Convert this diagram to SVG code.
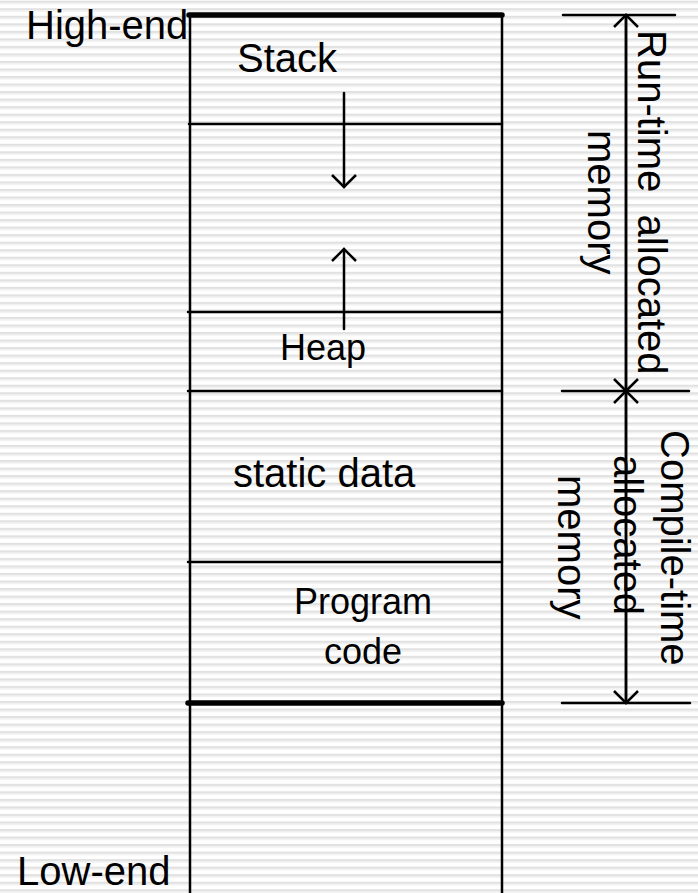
<svg xmlns="http://www.w3.org/2000/svg" width="698" height="893" viewBox="0 0 698 893">
<defs>
<pattern id="stripes" patternUnits="userSpaceOnUse" x="0" y="0.7" width="20" height="7.53">
<rect x="0" y="0" width="20" height="2" fill="#e1e1e1"/>
<rect x="0" y="2" width="20" height="1.5" fill="#eeeeee"/>
</pattern>
<marker id="chev" viewBox="-14 -14 28 28" markerWidth="28" markerHeight="28" refX="0" refY="0" orient="auto" markerUnits="userSpaceOnUse">
<path d="M-12,-12 L0,0 L-12,12" fill="none" stroke="#000" stroke-width="2.5"/>
</marker>
</defs>
<style>
.ln{stroke:#000;stroke-width:2.5;fill:none;stroke-linecap:round}
.thick{stroke:#000;stroke-width:5.5;fill:none;stroke-linecap:round}
.t{font-family:"Liberation Sans",Arial,sans-serif;font-size:40px;fill:#000}
.s{font-size:36px}
</style>
<rect width="698" height="893" fill="#ffffff"/>
<rect width="698" height="893" fill="url(#stripes)"/>
<g id="memory-column">
<line class="ln" x1="190" y1="15" x2="190" y2="893"/>
<line class="ln" x1="502" y1="15" x2="502" y2="893"/>
<line class="thick" x1="189" y1="15" x2="502" y2="15"/>
<line class="thick" x1="188" y1="703" x2="502" y2="703"/>
</g>
<g id="stack">
<line class="ln" x1="189" y1="124" x2="502" y2="124"/>
<text class="t" x="237" y="72">Stack</text>
</g>
<g id="heap">
<line class="ln" x1="188" y1="312" x2="502" y2="312"/>
<text class="t s" x="280" y="360">Heap</text>
</g>
<g id="static-data">
<line class="ln" x1="188" y1="391" x2="502" y2="391"/>
<text class="t" x="233" y="487">static data</text>
</g>
<g id="program-code">
<line class="ln" x1="188" y1="562" x2="502" y2="562"/>
<text class="t s" x="363" y="614" text-anchor="middle">Program</text>
<text class="t s" x="363" y="664" text-anchor="middle">code</text>
</g>
<g id="labels">
<text class="t" x="26" y="39">High-end</text>
<text class="t" x="17" y="885">Low-end</text>
</g>
<g id="run-time">
<text class="t" transform="translate(638,30) rotate(90)">Run-time&#160;&#160;allocated</text>
<text class="t" transform="translate(588,130) rotate(90)">memory</text>
</g>
<g id="compile-time">
<text class="t" transform="translate(661,430) rotate(90)">Compile-time</text>
<text class="t" transform="translate(614,455) rotate(90)">allocated</text>
<text class="t" transform="translate(558,475) rotate(90)">memory</text>
</g>
<g id="connectors">
<line class="ln" x1="344" y1="93" x2="344" y2="187" marker-end="url(#chev)"/>
<line class="ln" x1="344" y1="329" x2="344" y2="249" marker-end="url(#chev)"/>
<line class="ln" x1="563" y1="15" x2="675" y2="15"/>
<line class="ln" x1="562" y1="391" x2="689" y2="391"/>
<line class="ln" x1="562" y1="703" x2="690" y2="703"/>
<line class="ln" x1="626" y1="391" x2="626" y2="15" marker-end="url(#chev)"/>
<line class="ln" x1="626" y1="15" x2="626" y2="391" marker-end="url(#chev)"/>
<line class="ln" x1="626" y1="391" x2="626" y2="703" marker-end="url(#chev)"/>
<line class="ln" x1="626" y1="703" x2="626" y2="391" marker-end="url(#chev)"/>
</g>
</svg>
